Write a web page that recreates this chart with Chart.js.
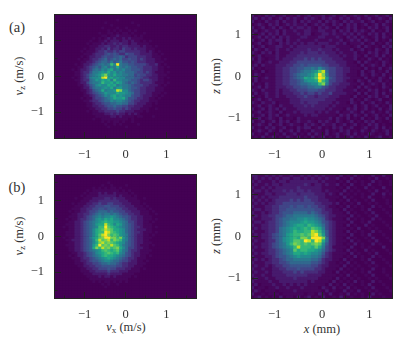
<!DOCTYPE html>
<html>
<head>
<meta charset="utf-8">
<title>Velocity and position distributions</title>
<script src="https://cdn.jsdelivr.net/npm/chart.js@4/dist/chart.umd.min.js"></script>
<style>
  html, body { margin: 0; padding: 0; background: #fff; }
  #page { position: relative; width: 407px; height: 349px; overflow: hidden;
          font-family: "Liberation Serif", serif; color: #333; }
  canvas { position: absolute; }
  .label { position: absolute; font-size: 12.5px; white-space: nowrap; line-height: 14px;
           transform: translate(-50%, -50%); }
  .rot { transform: translate(-50%, -50%) rotate(-90deg); }
  .panel { font-size: 14.5px; }
  .label sub { font-size: 9px; line-height: 0; vertical-align: -2px; }
</style>
</head>
<body>
<div id="page">
  <div class="label panel" style="left:17px;top:27px">(a)</div>
  <div class="label panel" style="left:17px;top:187px">(b)</div>
  <div class="label rot" style="left:19px;top:76px"><i>v</i><sub>z</sub> (m/s)</div>
  <div class="label rot" style="left:19px;top:236px"><i>v</i><sub>z</sub> (m/s)</div>
  <div class="label rot" style="left:216px;top:76px"><i>z</i> (mm)</div>
  <div class="label rot" style="left:216px;top:236px"><i>z</i> (mm)</div>
  <div class="label" style="left:126px;top:327px"><i>v</i><sub>x</sub> (m/s)</div>
  <div class="label" style="left:322px;top:329px"><i>x</i> (mm)</div>
</div>
<script>
// colour levels 0-f
const levelColors = ['#440154', '#46085c', '#471a6d', '#472c7a', '#414487', '#3a548c', '#31688e', '#2a788e',
  '#23888e', '#1f988b', '#22a884', '#35b779', '#54c568', '#7ad151', '#c0df25', '#fde725'];

const velocityRange = 1.75;
const positionRange = 1.5;
const majorTicks = [-1, 0, 1];
const velocityMinorTicks = [-1.5, -1, -0.5, 0, 0.5, 1, 1.5];
const positionMinorTicks = [-1, -0.5, 0, 0.5, 1];

// each string is one row of the histogram, top row first, one level per cell
const velocityTop = [
  '00000000 00000000 00000000 00000000 00000000 00000000',
  '00000000 00000000 00000000 00000000 00000000 00000000',
  '00000000 00000000 00000100 00000000 00000000 00000000',
  '00000000 00000000 01000000 00100000 00000000 00000000',
  '00000000 00000000 00010000 00001000 00000000 00000000',
  '00000000 00000000 10000100 10000000 00000000 00000000',
  '00000000 00000000 00101010 01010000 00000000 00000000',
  '00000000 00000001 00110101 10100010 00000000 00000000',
  '00000000 00000000 11011211 11010100 00000000 00000000',
  '00000000 00000101 01212112 12111100 00000000 00000000',
  '00000000 00001001 12122212 21211010 10000000 00000000',
  '00000000 00010111 21223232 21221111 00000000 00000000',
  '00000000 00001112 23322323 32222121 10100000 00000000',
  '00000000 00101122 32423324 33232221 11000000 00000000',
  '00000000 01011123 34334344 33333221 21010000 00000000',
  '00000000 00111233 34545433 54433222 21101000 00000000',
  '00000000 01012233 45445565 34443332 21110000 00000000',
  '00000000 10112334 56456564 45443432 22110100 00000000',
  '00000000 01122345 66575675 54543332 22111000 00000000',
  '00000001 01223456 767b8f76 65544443 22310100 00000000',
  '00000000 11234565 78687a76 76554433 32211010 00000000',
  '00000010 12234676 879a7878 66555433 32211000 00000000',
  '00000001 12335778 98a89787 66654434 32111010 00000000',
  '00000001 12346789 bd98a887 76645443 32211100 00000000',
  '00000010 12347889 ef9a8988 66655433 22211010 00000000',
  '00000001 12336798 a9a7b887 76554344 32211000 00000000',
  '00000000 12246778 b99a8a97 65654333 32111010 00000000',
  '00000000 11235689 88a9a787 76544433 22210100 00000000',
  '00000000 01224677 898a7997 76554332 22111000 00000000',
  '00000000 01123567 a7889ed8 86544332 22111000 00000000',
  '00000000 00123456 79888a99 87644332 21110100 00000000',
  '00000000 00112345 6879a898 77544322 21101000 00000000',
  '00000000 01011344 5678a99a 75543322 11010000 00000000',
  '00000000 00112334 56687887 65433222 11100000 00000000',
  '00000000 00011233 45566776 64432221 10100000 00000000',
  '00000000 00011223 34556554 43322211 10000000 00000000',
  '00000000 00001122 33445443 43222111 00100000 00000000',
  '00000000 00010112 23333433 22211101 00000000 00000000',
  '00000000 00000111 12232322 12121000 00000000 00000000',
  '00000000 00000011 11122121 11101100 01000000 00000000',
  '00000000 00000100 11111111 10100000 00000000 00000000',
  '00000000 00000000 10101101 00100000 00000000 00000000',
  '00000000 00000000 01001010 00001000 00000000 00000000',
  '00000000 00000000 00100000 10000000 00000000 00000000',
  '00000000 00000000 00000000 00000000 00000000 00000000',
  '00000000 00000000 00000000 00000000 00000000 00000000',
  '00000000 00000000 00000000 00000000 00000000 00000000',
  '00000000 00000000 00000000 00000000 00000000 00000000'
];

const positionTop = [
  '20102120 12010201 20112012 01201210 20120120',
  '12021201 20212102 12102121 02120120 12012102',
  '20102112 02112021 21120212 10212112 01201021',
  '01210212 01212112 01212102 12021201 20120210',
  '20120120 21021221 21021210 20121201 02120120',
  '12012112 02112112 21122112 02120212 10201020',
  '20120212 02111212 20112212 11212021 02120201',
  '01202120 21211122 11122111 21021202 10120210',
  '20120212 20211211 11211121 12012120 21020102',
  '01201210 21212121 22122211 21201112 01201021',
  '20120112 21121222 22221222 11110120 21010212',
  '02102112 11212222 32232221 21112012 01021020',
  '21021202 11122232 33323222 12111201 02120120',
  '01201112 11222333 33333322 21211210 20120201',
  '20210112 12223334 34343332 22111201 02102010',
  '01201211 22233444 44444333 22211020 21010210',
  '12021112 22334454 55554433 32211102 01210201',
  '20101112 23344556 67686544 33221110 20102012',
  '01020112 23344567 789ce644 33221102 01201020',
  '02101112 23345677 89bfd744 33211102 10210201',
  '12012112 2334567a 9acfe954 33221110 20102102',
  '02011112 23344568 99aeb844 33211021 02012010',
  '20102112 23344566 788bd743 32221102 01210201',
  '01202112 22334455 66775433 22211020 21010210',
  '21021112 12233444 55544333 22111201 02120102',
  '02012112 12223343 44343342 22211020 20120201',
  '20102112 11222334 33233322 21110201 02120120',
  '01201211 11122233 33333222 11112010 21012001',
  '21021120 11122232 33322221 21102102 01201021',
  '01201210 21112223 23222212 11110201 20120102',
  '20120212 02111222 22222121 11021201 20102012',
  '01201210 20112122 22121211 20112102 01201021',
  '20120212 01211112 12211111 02120210 20120102',
  '01201210 20110211 11111120 21020102 01021020',
  '20120120 21201211 21021210 21012010 21201001',
  '01210201 20121102 12102112 01201201 02120100',
  '20102120 12010212 20120102 12012001 20120201',
  '01210210 20120201 02110201 02120102 10210120',
  '20102001 02012010 20210201 20120201 02101020',
  '01020120 10210201 02012010 20012010 20012001'
];

const velocityBottom = [
  '00000000 00000000 00000000 00000000 00000000 00000000',
  '00000000 00000000 00000000 00000000 00000000 00000000',
  '00000000 00000000 00000000 00000000 00000000 00000000',
  '00000000 00000000 00100000 00000000 00000000 00000000',
  '00000000 00000000 10010000 10000000 00000000 00000000',
  '00000000 00000101 01011010 00000000 00000000 00000000',
  '00000000 00010111 11111101 01000000 00000000 00000000',
  '00000000 00101112 12112111 10100000 00000000 00000000',
  '00000000 01011112 22222121 11010000 00000000 00000000',
  '00000001 00111222 23323222 11110010 00000000 00000000',
  '00000000 01112223 33333322 21111000 00000000 00000000',
  '00000010 11122334 33443332 22111010 00000000 00000000',
  '00000001 11223344 45544433 22211101 00000000 00000000',
  '00000011 12233445 54555443 32221110 10000000 00000000',
  '00000101 12234456 66565544 33222111 01000000 00000000',
  '00000011 22334567 67767654 43322111 00100000 00000000',
  '00000111 22345678 78898765 54332211 10000000 00000000',
  '00001011 23345689 8a9a8876 54332211 10100000 00000000',
  '00000112 23456789 abaa9987 64432211 01000000 00000000',
  '00001112 2345679a aeba8a97 65432211 10000000 00000000',
  '00010112 2345678b bfcba987 65433211 10100000 00000000',
  '00000112 234568ab cedcaa98 65432221 10000000 00000000',
  '00001112 234568ab bfecba98 65433211 10100000 00000000',
  '00001112 234568ac efdbcb98 75432211 01000000 00000000',
  '00010112 234579ac dffddbd9 75432211 10000000 00000000',
  '00001122 234568be cdebdcb8 75432211 00000000 00000000',
  '00000112 234568ad ecdcba98 65432211 10000000 00000000',
  '00001112 234569bf cdcecb97 65432111 01000000 00000000',
  '00000112 23456adb ecdbcda8 64432211 00000000 00000000',
  '00000112 23456789 bcbabc97 64332111 10000000 00000000',
  '00000011 22345689 abcbab87 54322111 00000000 00000000',
  '00000101 22345678 abaa9876 54322110 10000000 00000000',
  '00000011 12334567 89a98765 43321110 00000000 00000000',
  '00000001 12234556 78876654 43221101 00000000 00000000',
  '00000001 11233445 66766543 32221110 00000000 00000000',
  '00000000 11223344 55555443 32211100 00000000 00000000',
  '00000000 01122334 44544333 22111010 00000000 00000000',
  '00000000 01112233 33433322 21111000 00000000 00000000',
  '00000000 00111222 22322221 11100000 00000000 00000000',
  '00000000 00011112 12212111 11010000 00000000 00000000',
  '00000000 00001111 11111111 10000000 00000000 00000000',
  '00000000 00000101 01101010 10000000 00000000 00000000',
  '00000000 00000000 10100100 00000000 00000000 00000000',
  '00000000 00000000 01000000 00000000 00000000 00000000',
  '00000000 00000000 00000000 00000000 00000000 00000000',
  '00000000 00000000 00000000 00000000 00000000 00000000',
  '00000000 00000000 00000000 00000000 00000000 00000000',
  '00000000 00000000 00000000 00000000 00000000 00000000'
];

const positionBottom = [
  '22112121 21121121 21212111 02010201 00200200',
  '12121212 12212212 12121211 20102010 01020010',
  '21211121 22122222 22212111 01020101 00201001',
  '12112122 12222223 21221211 20102001 02001001',
  '21121212 22222322 22221111 01020100 20100200',
  '12212122 23232332 32221211 10201010 01020010',
  '21112212 22333233 33222121 02010101 00200201',
  '12121222 33333334 33322111 10201001 02000100',
  '21212123 33343434 43322211 01020100 10200010',
  '12121223 34444444 44332221 20101020 01010010',
  '21112233 44454554 54433211 01020101 00201001',
  '12212233 44555555 55443221 10201001 02000100',
  '21121233 45556666 56543321 11020100 10200010',
  '12122334 45667777 77654322 11102010 01020001',
  '21122234 56677889 88765321 11020101 00201000',
  '12212334 5678889a 99875432 11102001 02000100',
  '21122334 56789aa9 ba986432 11020100 20100010',
  '12122334 6789a9ab acba7432 11101020 01010001',
  '21112334 6789baab bedb8532 11020101 00201000',
  '12122345 679abbcb cefc9532 11102001 02000100',
  '21122345 689abadd bfffd632 11020100 10200010',
  '12112335 689accbf ebfea632 11102010 01020001',
  '21122345 679bdcbc bcdc8532 11010201 00201000',
  '12122345 6789bebb baca7431 11102001 01000200',
  '21112334 5678cabb aa986432 11020100 20100010',
  '12122334 5678aa9a 98875321 11102010 01020001',
  '21112234 55678988 87764321 11010201 00201000',
  '12121233 45667777 76653221 10201001 02000100',
  '21112233 44566666 65543211 01020100 10200010',
  '12112123 34455555 54432211 10201010 01010001',
  '21121122 33444544 44332111 02010101 00200100',
  '12112122 23334343 33322110 20101001 02000100',
  '21121122 22333333 22221111 01020100 10200010',
  '12112112 22223222 22211110 20101010 01010001',
  '21111211 22222222 12111102 01010201 00201000',
  '12011121 12121212 11111020 10201001 02000100',
  '20110112 11211121 11102102 01020100 10200010',
  '12101110 11112111 11110201 00201020 01010001',
  '20010111 01111110 11021020 01020101 00201000',
  '01201010 20110201 20102001 02001001 02000100'
];

const inkColor = '#222';
const yAxisWidth = 40;
const xAxisHeight = 30;

const framePlugin = {
  id: 'frame',
  beforeDatasetsDraw(chart) {
    const { ctx, chartArea } = chart;
    ctx.save();
    ctx.fillStyle = levelColors[0];
    ctx.fillRect(chartArea.left, chartArea.top, chartArea.width, chartArea.height);
    ctx.restore();
  },
  afterDraw(chart) {
    const { ctx, chartArea } = chart;
    ctx.save();
    ctx.strokeStyle = inkColor;
    ctx.lineWidth = 1;
    ctx.strokeRect(chartArea.left + 0.5, chartArea.top + 0.5, chartArea.width - 1, chartArea.height - 1);
    ctx.restore();
  }
};

function buildCells(rows, range) {
  const clean = rows.map(r => r.replace(/ /g, ''));
  const step = 2 * range / clean.length;
  const points = [];
  const colors = [];
  clean.forEach((row, r) => {
    for (let c = 0; c < row.length; c++) {
      const top = range - r * step;
      points.push({ x: -range + (c + 0.5) * step, y: [top - step * 1.02, top] });
      colors.push(levelColors[parseInt(row[c], 16)]);
    }
  });
  return { points, colors };
}

function tickAxis(range, tickValues, tickLength, size, padding, isMajor) {
  return {
    type: 'linear',
    min: -range,
    max: range,
    offset: false,
    weight: isMajor ? 0 : -1,
    grid: { offset: false, drawOnChartArea: false, drawTicks: true, tickLength, tickColor: inkColor, tickWidth: 1, z: 1 },
    border: { display: false },
    ticks: {
      display: isMajor,
      padding,
      autoSkip: false,
      maxRotation: 0,
      color: '#333',
      font: { family: '"Liberation Serif", serif', size: 12.5 },
      callback: v => String(v).replace('-', '\u2212')
    },
    afterBuildTicks: s => { s.ticks = tickValues.map(value => ({ value })); },
    afterFit: s => {
      // the inward ticks confuse the padding chart.js works out, so pin the box
      s.paddingTop = s.paddingBottom = s.paddingLeft = s.paddingRight = 0;
      if (s.isHorizontal()) s.height = size.x;
      else s.width = size.y;
    }
  };
}

function addPanel(rows, range, minorTicks, left, top, width, height) {
  const canvas = document.createElement('canvas');
  canvas.style.left = (left - yAxisWidth) + 'px';
  canvas.style.top = (top - 4) + 'px';
  canvas.style.width = (yAxisWidth + width + 4) + 'px';
  canvas.style.height = (height + xAxisHeight + 4) + 'px';
  canvas.width = yAxisWidth + width + 4;
  canvas.height = height + xAxisHeight + 4;
  document.getElementById('page').appendChild(canvas);

  const { points, colors } = buildCells(rows, range);
  const bins = rows.length;

  new Chart(canvas, {
    type: 'bar',
    data: {
      datasets: [{
        data: points,
        backgroundColor: colors,
        borderWidth: 0,
        barThickness: width / bins + 0.2,
        xAxisID: 'x',
        yAxisID: 'y'
      }]
    },
    options: {
      responsive: false,
      animation: false,
      layout: { padding: { top: 4, right: 4 } },
      plugins: { legend: { display: false }, tooltip: { enabled: false } },
      scales: {
        x: tickAxis(range, majorTicks, -7, { x: xAxisHeight }, 15, true),
        y: tickAxis(range, majorTicks, -7, { y: yAxisWidth }, 17, true),
        xMinor: tickAxis(range, minorTicks, -3.5, { x: 0 }, 0, false),
        yMinor: tickAxis(range, minorTicks, -3.5, { y: 0 }, 0, false)
      }
    },
    plugins: [framePlugin]
  });
}

addPanel(velocityTop, velocityRange, velocityMinorTicks, 54, 14, 143, 125);
addPanel(positionTop, positionRange, positionMinorTicks, 251, 14, 142, 125);
addPanel(velocityBottom, velocityRange, velocityMinorTicks, 54, 174, 143, 125);
addPanel(positionBottom, positionRange, positionMinorTicks, 251, 174, 142, 125);
</script>
</body>
</html>
